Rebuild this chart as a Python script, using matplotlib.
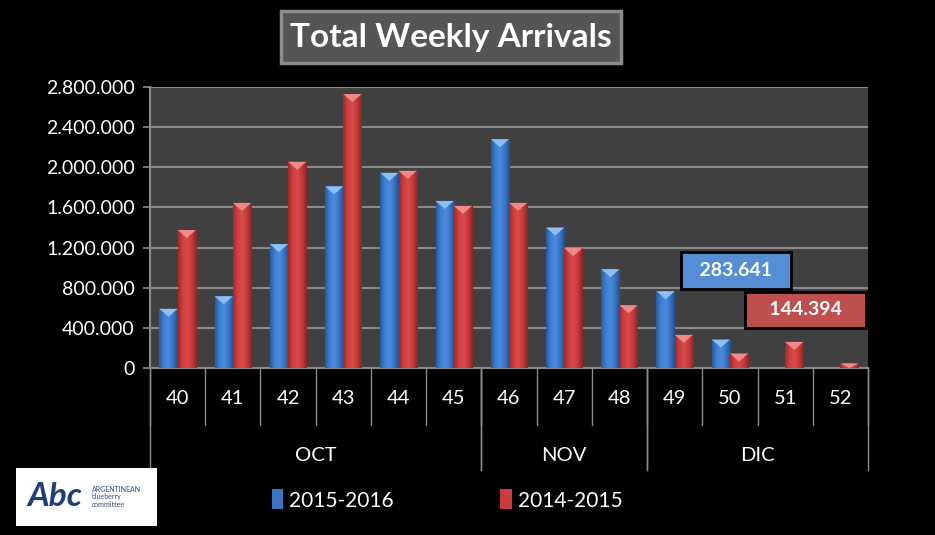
import numpy as np
import matplotlib.pyplot as plt
from matplotlib.colors import LinearSegmentedColormap
from matplotlib.patches import Polygon, Rectangle, FancyBboxPatch, Patch
from matplotlib.transforms import blended_transform_factory

# data
weeks = ["40", "41", "42", "43", "44", "45", "46", "47", "48", "49", "50", "51", "52"]
months = ["OCT", "NOV", "DIC"]
month_spans = [(0, 5), (6, 8), (9, 12)]
arrivals_1516 = [590000, 715000, 1235000, 1810000, 1945000, 1665000, 2280000,
                 1400000, 985000, 765000, 283641, 0, 0]
arrivals_1415 = [1375000, 1645000, 2055000, 2730000, 1965000, 1615000, 1645000,
                 1195000, 625000, 330000, 144394, 260000, 45000]
series_names = ["2015-2016", "2014-2015"]

plt.rcParams['font.family'] = ['Lato', 'DejaVu Sans']

fig = plt.figure(figsize=(9.35, 5.35), dpi=100, facecolor="black")
ax = fig.add_axes([150 / 935, 1 - 368 / 535, 718 / 935, 281 / 535])
ax.set_facecolor("#404040")

x = np.arange(len(weeks))
w = 0.33
blue_cmap = LinearSegmentedColormap.from_list("b", ["#2a5a9e", "#3f80d2", "#4a8ce0", "#3a74c2", "#244f8c"])
red_cmap = LinearSegmentedColormap.from_list("r", ["#9e2a2a", "#d04040", "#dc4a4a", "#c23a3a", "#8c2424"])
grad = np.linspace(0, 1, 64).reshape(1, -1)


def draw_series(vals, offset, cmap, top_color):
    bars = ax.bar(x + offset, vals, width=w, color="none", edgecolor="none", zorder=3)
    for b in bars:
        h = b.get_height()
        if h <= 0:
            continue
        x0, bw = b.get_x(), b.get_width()
        im = ax.imshow(grad, extent=[x0, x0 + bw, 0, h], aspect="auto", cmap=cmap,
                       zorder=3, interpolation="bilinear")
        im.set_clip_path(b)
        d = min(h, 80000)
        ax.add_patch(Polygon([(x0, h), (x0 + bw, h), (x0 + bw / 2, h - d)],
                             closed=True, color=top_color, zorder=4, lw=0))


draw_series(arrivals_1516, -w / 2, blue_cmap, "#8cc0f5")
draw_series(arrivals_1415, w / 2, red_cmap, "#f08a8a")

ax.set_xlim(-0.5, len(weeks) - 0.5)
ax.set_ylim(0, 2800000)
ax.set_yticks(np.arange(0, 2800001, 400000))
ax.set_yticklabels([f"{int(v):,}".replace(",", ".") for v in ax.get_yticks()],
                   color="white", fontsize=14)
ax.yaxis.grid(True, color="#8a8a8a", lw=1.5, zorder=1)
ax.set_axisbelow(True)
ax.tick_params(axis="y", colors="#8a8a8a", length=5, width=1.2, labelcolor="white", pad=6)
ax.set_xticks([])
for s in ["top", "right"]:
    ax.spines[s].set_visible(False)
ax.spines["left"].set_color("#8a8a8a")
ax.spines["bottom"].set_color("#8a8a8a")
ax.spines["left"].set_linewidth(1.5)
ax.spines["bottom"].set_linewidth(1.5)

# multi-level category axis
tr = blended_transform_factory(ax.transData, ax.transAxes)
for i, wk in enumerate(weeks):
    ax.text(i, -0.107, wk, transform=tr, ha="center", va="center", color="white", fontsize=14.5)
for i in range(len(weeks) + 1):
    ax.plot([i - 0.5, i - 0.5], [0, -0.203], transform=tr, color="#8a8a8a", lw=1, clip_on=False)
for (a, b), m in zip(month_spans, months):
    ax.text((a + b) / 2, -0.31, m, transform=tr, ha="center", va="center", color="white", fontsize=14.5)
    for edge in (a - 0.5, b + 0.5):
        ax.plot([edge, edge], [0, -0.363], transform=tr, color="#8a8a8a", lw=1, clip_on=False)

# value callouts for week 50
ax.text(10.11, 971000, "  283.641  ", ha="center", va="center", color="white", fontsize=14,
        fontweight="bold", zorder=6,
        bbox=dict(boxstyle="square,pad=0.5", fc="#558ed5", ec="black", lw=2))
ax.text(11.37, 578000, "   144.394   ", ha="center", va="center", color="white", fontsize=14,
        fontweight="bold", zorder=6,
        bbox=dict(boxstyle="square,pad=0.5", fc="#c0504d", ec="black", lw=2))

# title box
fig.patches.append(FancyBboxPatch((281 / 935, 1 - 63 / 535), 340 / 935, 52 / 535,
                                  boxstyle="square,pad=0", transform=fig.transFigure,
                                  fc="#555555", ec="#8c8c8c", lw=2.5))
fig.text(451 / 935, 1 - 38 / 535, "Total Weekly Arrivals", ha="center", va="center",
         color="white", fontsize=24, fontweight="bold")

# legend
handles = [Patch(fc="#3a74c2", ec="none"), Patch(fc="#c83c3c", ec="none")]
fig.legend(handles, series_names, loc="center", bbox_to_anchor=(447 / 935, 1 - 500 / 535),
           ncol=2, frameon=False, fontsize=15, labelcolor="white", handlelength=0.55,
           handleheight=1.1, handletextpad=0.3, columnspacing=5.1)

# logo
fig.patches.append(Rectangle((16 / 935, 1 - 526 / 535), 141 / 935, 58 / 535,
                             transform=fig.transFigure, fc="white", ec="none"))
fig.text(27 / 935, 1 - 497 / 535, "Abc", color="#1f3f7a", fontsize=24, fontweight="bold",
         fontstyle="italic", va="center", ha="left")
fig.text(92 / 935, 1 - 497 / 535, "ARGENTINEAN\nblueberry\ncommittee", color="#2d4f8f",
         fontsize=5, va="center", ha="left", linespacing=1.1)

fig.savefig("out.png", dpi=100, facecolor="black")
